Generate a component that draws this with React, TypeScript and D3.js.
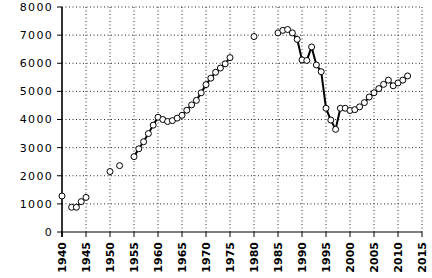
import React from "react";
import * as d3 from "d3";

const years = [
  1940, 1942, 1943, 1944, 1945, 1950, 1952,
  1955, 1956, 1957, 1958, 1959, 1960, 1961, 1962, 1963, 1964, 1965, 1966, 1967, 1968, 1969, 1970, 1971, 1972, 1973, 1974, 1975,
  1980,
  1985, 1986, 1987, 1988, 1989, 1990, 1991, 1992, 1993, 1994, 1995, 1996, 1997, 1998, 1999,
  2000, 2001, 2002, 2003, 2004, 2005, 2006, 2007, 2008, 2009, 2010, 2011, 2012,
];
const values = [
  1280, 880, 880, 1080, 1230, 2150, 2360,
  2680, 2960, 3210, 3500, 3800, 4080, 4000, 3930, 3960, 4050, 4150, 4330, 4520, 4680, 4950, 5240, 5470, 5680, 5830, 5980, 6200,
  6950,
  7080, 7170, 7200, 7080, 6850, 6120, 6100, 6580, 5940, 5700, 4400, 3980, 3650, 4400, 4400,
  4320, 4350, 4450, 4600, 4800, 4950, 5100, 5250, 5400, 5200, 5300, 5400, 5550,
];
const xTicks = [1940, 1945, 1950, 1955, 1960, 1965, 1970, 1975, 1980, 1985, 1990, 1995, 2000, 2005, 2010, 2015];
const yTicks = [0, 1000, 2000, 3000, 4000, 5000, 6000, 7000, 8000];

const W = 432;
const H = 278;

export default function App() {
  const x = d3.scaleLinear().domain([1940, 2015]).range([62, 422]);
  const y = d3.scaleLinear().domain([0, 8000]).range([232, 7]);

  // Insert breaks where consecutive years are not adjacent
  const lineData: ({ yr: number; v: number } | null)[] = [];
  years.forEach((yr, i) => {
    if (i > 0 && yr - years[i - 1] > 1) lineData.push(null);
    lineData.push({ yr, v: values[i] });
  });
  const line = d3
    .line<{ yr: number; v: number } | null>()
    .defined((d) => d !== null)
    .x((d) => x(d!.yr))
    .y((d) => y(d!.v));

  const font = "'DejaVu Sans', sans-serif";

  return (
    <svg
      width={W}
      height={H}
      style={{ position: "absolute", left: 0, top: 0, background: "#fff" }}
    >
      {/* grid */}
      <g stroke="#000" strokeWidth={1} strokeDasharray="1 2.5" opacity={0.85}>
        {xTicks.filter((t) => t > 1940).map((t) => (
          <line key={"vx" + t} x1={x(t)} x2={x(t)} y1={y(8000)} y2={y(0)} />
        ))}
        {yTicks.filter((t) => t > 0).map((t) => (
          <line key={"hy" + t} x1={x(1940)} x2={x(2015)} y1={y(t)} y2={y(t)} />
        ))}
      </g>
      {/* axes */}
      <line x1={x(1940)} x2={x(1940)} y1={y(8000)} y2={y(0) + 5} stroke="#000" strokeWidth={1.6} />
      <line x1={x(1940)} x2={x(2015)} y1={y(0)} y2={y(0)} stroke="#000" strokeWidth={1.2} />
      {yTicks.map((t) => (
        <g key={"yt" + t}>
          <line x1={x(1940) - 5} x2={x(1940)} y1={y(t)} y2={y(t)} stroke="#000" strokeWidth={1} />
          <text
            x={x(1940) - 9}
            y={y(t)}
            dy="0.36em"
            textAnchor="end"
            fontFamily={font}
            fontSize={11}
            letterSpacing={1.3}
            fill="#000"
          >
            {t}
          </text>
        </g>
      ))}
      {xTicks.map((t) => (
        <g key={"xt" + t}>
          <line x1={x(t)} x2={x(t)} y1={y(0)} y2={y(0) + 5} stroke="#000" strokeWidth={1} />
          <text
            transform={`translate(${x(t)},${y(0) + 10}) rotate(-90)`}
            dy="0.36em"
            textAnchor="end"
            fontFamily={font}
            fontSize={11}
            fontWeight="bold"
            fill="#000"
          >
            {t}
          </text>
        </g>
      ))}
      {/* series */}
      <path d={line(lineData) || ""} fill="none" stroke="#000" strokeWidth={2} strokeLinejoin="round" />
      {years.map((yr, i) => (
        <circle
          key={"p" + yr}
          cx={x(yr)}
          cy={y(values[i])}
          r={3}
          fill="#fff"
          stroke="#000"
          strokeWidth={1}
        />
      ))}
    </svg>
  );
}
